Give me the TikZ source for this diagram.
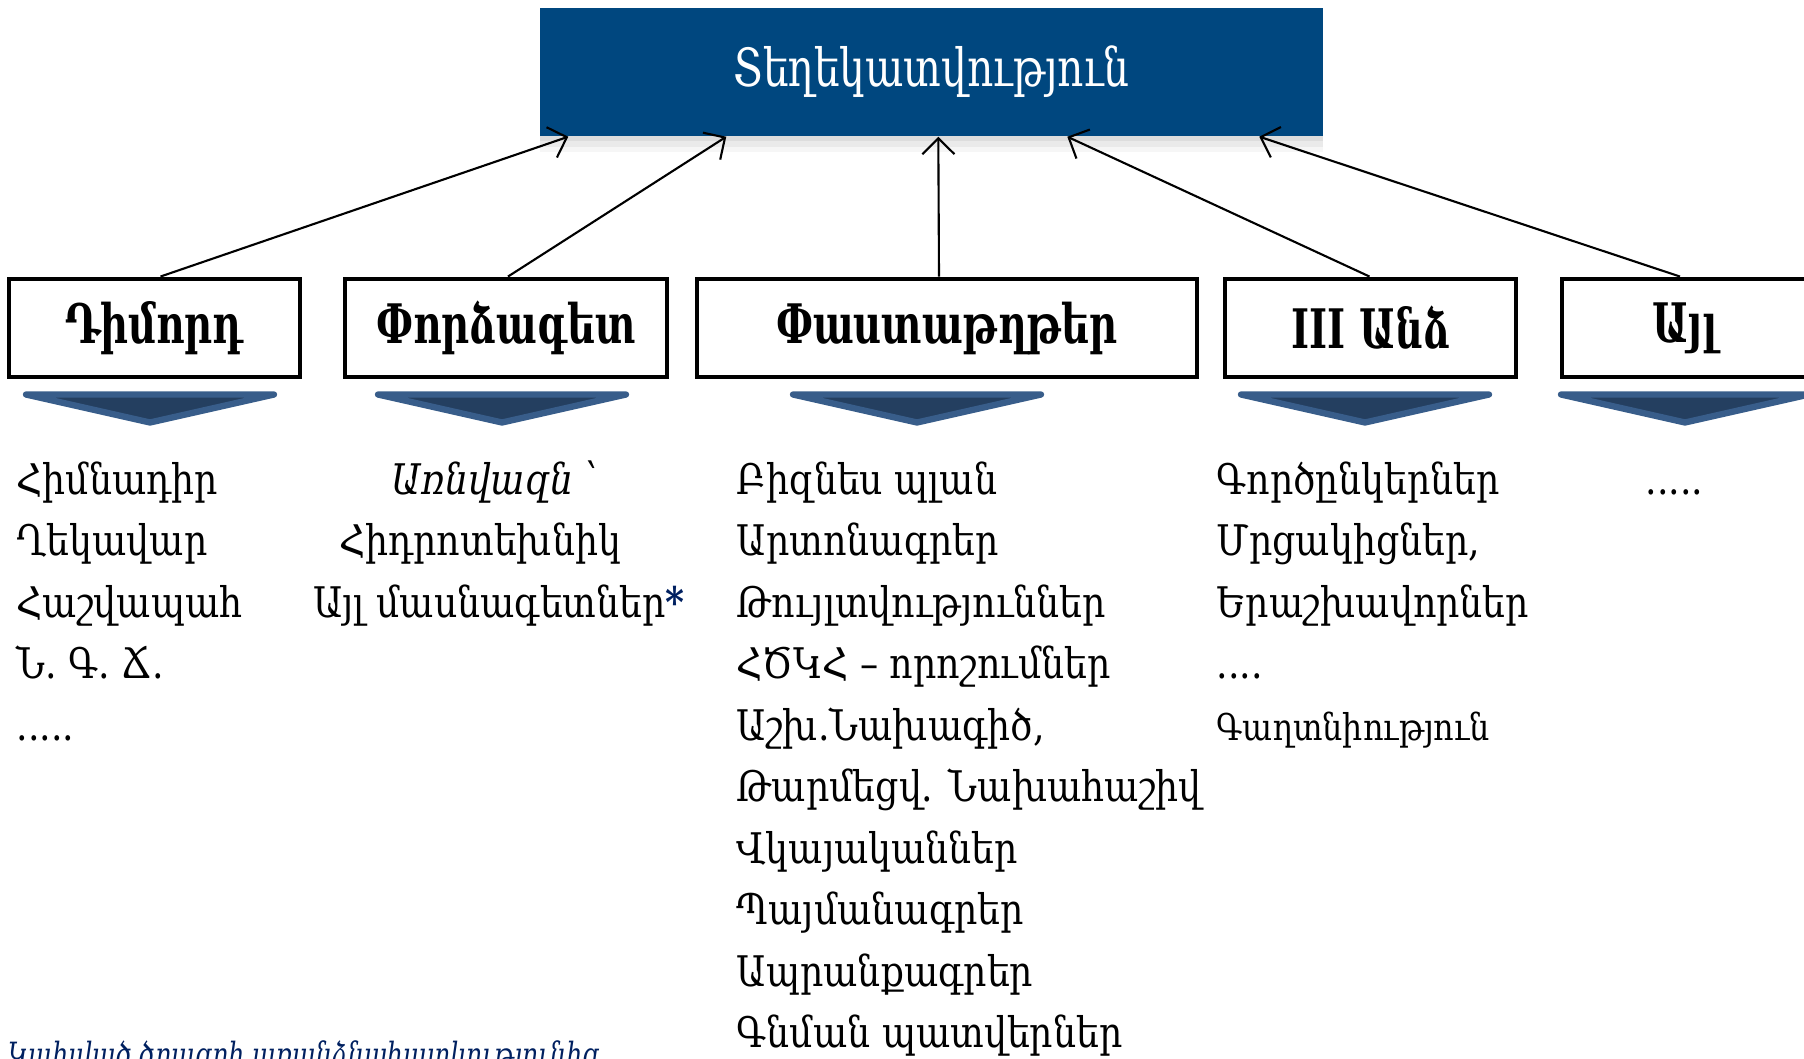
\documentclass[tikz,border=0pt]{standalone}
\usepackage{fontspec}
\setmainfont[FakeStretch=0.86]{DejaVu Serif}
\newfontfamily\headfont[FakeStretch=0.77]{DejaVu Serif}
\newfontfamily\boxfont[FakeStretch=0.71]{DejaVu Serif}
\newfontfamily\notefont[FakeStretch=0.75]{DejaVu Serif}
\usetikzlibrary{arrows.meta, shadows, positioning}

\definecolor{infoblue}{RGB}{0,71,127}
\definecolor{chevfill}{RGB}{36,63,96}
\definecolor{chevline}{RGB}{56,93,138}
\definecolor{noteblue}{RGB}{0,32,96}

\begin{document}
\begin{tikzpicture}[> = {Straight Barb[length = 1.6mm, width = 3.2mm]}, every node/.style = {text = black},
	source/.style = {draw, line width = 1.4pt, minimum height = 0.98cm, inner sep = 0pt,
		font = \boxfont\fontsize{15.5}{18}\selectfont\bfseries},
	item/.style = {anchor = base west, inner sep = 0pt, font = \fontsize{12}{14}\selectfont}]

	% Definitions

	\def\H{7.30}		% Row of the sources
	\def\L{0.615}		% Line spacing of the lists
	\def\B{5.64}		% Baseline of the first list line

	\useasboundingbox (0, 0) rectangle (18.04, 10.58);

	% Target

	\node [fill = infoblue, minimum width = 7.83cm, minimum height = 1.28cm,
		drop shadow = {shadow xshift = 0pt, shadow yshift = -1.5pt, opacity = 0.12},
		drop shadow = {shadow xshift = 0pt, shadow yshift = -3pt, opacity = 0.1},
		drop shadow = {shadow xshift = 0pt, shadow yshift = -4.5pt, opacity = 0.07},
		text = white, font = \headfont\fontsize{15}{18}\selectfont] (info) at (9.315, 9.86) {Տեղեկատվություն};

	% Sources

	\node [source, minimum width = 2.91cm] (dimord) at (1.545, \H) {Դիմորդ};
	\node [source, minimum width = 3.22cm] (expert) at (5.06, \H) {Փորձագետ};
	\node [source, minimum width = 5.00cm] (docs) at (9.47, \H) {Փաստաթղթեր};
	\node [source, minimum width = 2.91cm] (third) at (13.705, \H) {III Անձ};
	\node [source, minimum width = 2.46cm] (other) at (16.85, \H) {Այլ};

	% Arrows to the target

	\begin{scope}[->, line width = 0.6pt]

		\draw ([xshift = 0.06cm] dimord.north) -- ([xshift = 0.29cm] info.south west);
		\draw ([xshift = 0.02cm] expert.north) -- ([xshift = 1.87cm] info.south west);
		\draw ([xshift = -0.08cm] docs.north) -- ([xshift = 3.99cm] info.south west);
		\draw ([xshift = -0.01cm] third.north) -- ([xshift = 5.28cm] info.south west);
		\draw ([xshift = -0.05cm] other.north) -- ([xshift = 7.20cm] info.south west);

	\end{scope}

	% Chevrons under the sources

	\foreach \x in {1.50, 5.02, 9.17, 13.65, 16.85}
		\draw [fill = chevfill, draw = chevline, line width = 1.8pt, line join = round, line cap = round]
			(\x - 1.24, 6.635) -- (\x + 1.24, 6.635) -- (\x, 6.355) -- cycle;

	% Lists

	\foreach \t [count = \i] in {Հիմնադիր, Ղեկավար, Հաշվապահ, {Ն. Գ. Ճ.}}
		\node [item] (dim-\i) at (0.16, {\B - \L * (\i - 1)}) {\t};
	\node [item] (dim-5) at (0.16, \B - 4 * \L) {.....};

	\node [item, anchor = base, font = \fontsize{12}{14}\selectfont\itshape] (exp-1) at (4.95, \B) {Առնվազն ՝};
	\node [item, anchor = base] (exp-2) at (4.80, \B - \L) {Հիդրոտեխնիկ};
	\node [item, anchor = base] (exp-3) at (4.99, \B - 2 * \L) {Այլ մասնագետներ{\color{noteblue}\bfseries*}};

	\foreach \t [count = \i] in {Բիզնես պլան, Արտոնագրեր, Թույլտվություններ, ՀԾԿՀ – որոշումներ,
		{Աշխ.Նախագիծ,}, {Թարմեցվ. Նախահաշիվ}, Վկայականներ, Պայմանագրեր, Ապրանքագրեր, Գնման պատվերներ}
		\node [item] (doc-\i) at (7.36, {\B - \L * (\i - 1)}) {\t};

	\foreach \t [count = \i] in {Գործընկերներ, {Մրցակիցներ,}, Երաշխավորներ}
		\node [item] (thr-\i) at (12.16, {\B - \L * (\i - 1)}) {\t};
	\node [item] (thr-4) at (12.16, \B - 3 * \L) {....};
	\node [item, font = \fontsize{10.5}{12}\selectfont] (thr-5) at (12.16, \B - 4 * \L) {Գաղտնիություն};

	\node [item] (oth-1) at (16.45, \B) {.....};

	% Note at the bottom

	\node [item, text = noteblue, font = \notefont\fontsize{9.5}{12}\selectfont\itshape] (note) at (0.08, -0.08)
		{Կախված ծրագրի առանձնահատկությունից};

\end{tikzpicture}
\end{document}
